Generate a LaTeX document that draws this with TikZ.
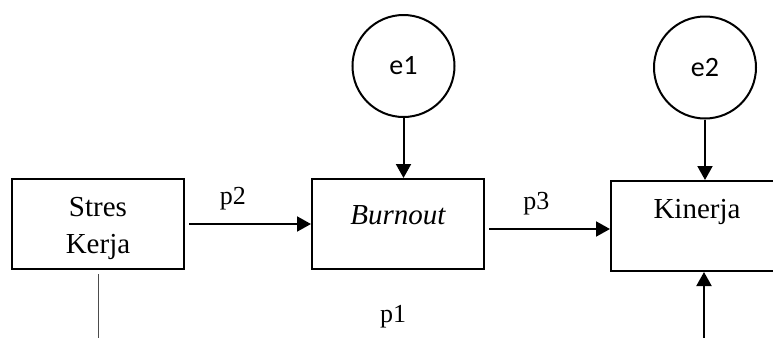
\documentclass[tikz,border=0pt]{standalone}
\usepackage{fontspec}
\setmainfont{Liberation Serif}
\newfontfamily\errfont{Carlito}
\usepackage{tikz}
\usetikzlibrary{calc,arrows.meta,positioning}

\begin{document}
\begin{tikzpicture}[>={Triangle[length=7pt,width=7.5pt]}, line cap=butt, line join=miter, x=0.5pt, y=-0.5pt]
\tikzset{
  box/.style={draw, line width=1pt, minimum width=86pt, minimum height=45pt, inner sep=2pt, align=center,
    font=\fontsize{14.5}{18.5}\selectfont},
  err/.style={circle, draw, line width=1pt, minimum size=51pt, inner sep=0pt, font=\fontsize{14}{17}\errfont},
  path/.style={->, line width=1pt},
  thin/.style={line width=0.5pt, black!70},
  lab/.style={font=\fontsize{13}{16}\selectfont, inner sep=0pt, anchor=base, yshift=10pt},
}
\useasboundingbox (0,0) rectangle (773,338);
\clip (0,0) rectangle (773,338);

% variables
\node[box] (stres) at (98,224) {\rule{0pt}{14.4pt}Stres\\Kerja};
\node[box, text height=10pt, text depth=10pt] (burn) at (398,224) {\itshape Burnout};
\node[box, text height=10pt, text depth=18pt] (kin) at (697,226) {Kinerja};

% error terms
\node[err] (e1) at (403.5,66) {e1};
\node[err] (e2) at (705,67.5) {e2};

\coordinate (down) at (98,338);
\coordinate (up) at (704,338);

\draw[path, shorten <=2pt] (stres.east) -- node[lab, pos=0.38] {p2} (burn.west);
\draw[path, shorten <=2pt] (burn.east |- 0,229) -- node[lab, pos=0.41] {p3} (kin.west |- 0,229);
\draw[path] (e1.south) -- (e1.south |- burn.north);
\draw[path] (e2.south) -- (e2.south |- kin.north);

\draw[thin, shorten <=2pt] (stres.south) -- (down);
\draw[path] (up) -- (up |- kin.south);
\node[lab, yshift=-10pt] (p1) at (393,322) {p1};
\end{tikzpicture}
\end{document}
